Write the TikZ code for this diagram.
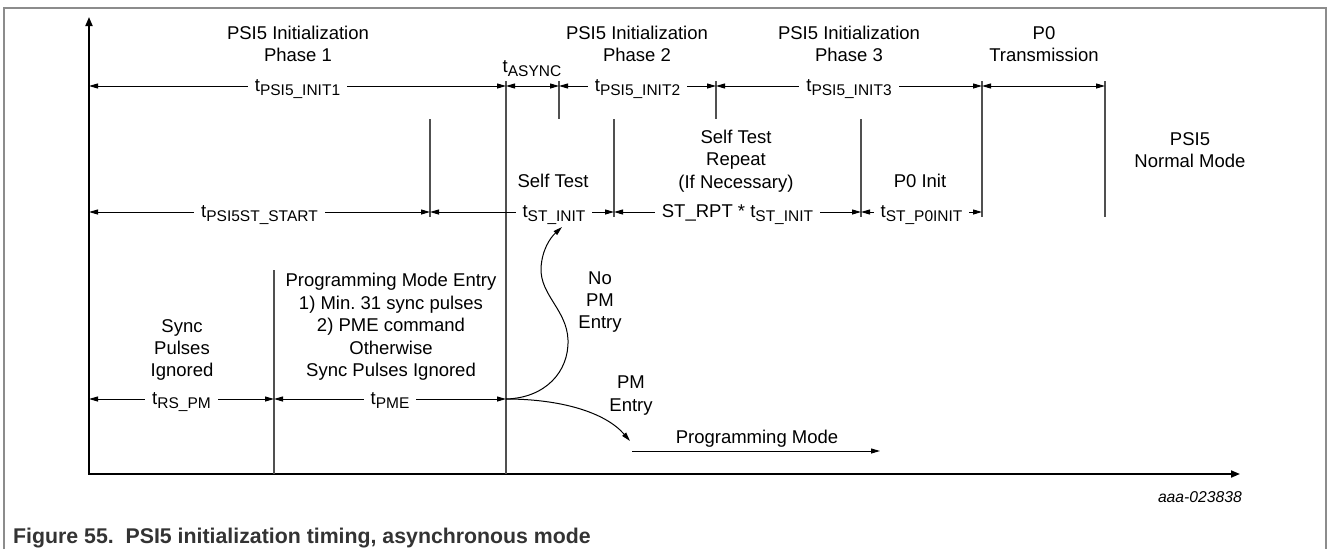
\documentclass[tikz,border=0pt]{standalone}
\usepackage{fontspec}
\setmainfont{Liberation Sans}
\usetikzlibrary{arrows.meta}
\definecolor{framegray}{HTML}{8C8C8C}
\definecolor{linegray}{HTML}{505050}
\definecolor{captiongray}{HTML}{333333}
\newcommand\tsb[1]{t\raisebox{-4.5pt}{\fontsize{15.5}{16}\selectfont #1}}
\begin{document}
\begin{tikzpicture}[x=1pt,y=-1pt,
  every node/.style={font=\fontsize{18.5}{22.4}\selectfont, inner sep=0pt},
  txt/.style={align=center},
  dim/.style={line width=1pt, {Triangle[length=9pt,width=5pt]}-{Triangle[length=9pt,width=5pt]}},
  dimlab/.style={fill=white, inner xsep=7pt, inner ysep=1pt, anchor=base, yshift=-5pt},
  sect/.style={line width=1.2pt, draw=linegray},
  axisline/.style={line width=1.8pt, {Triangle[length=9pt,width=7pt]}-{Triangle[length=9pt,width=7pt]}},
  flow/.style={line width=1pt, -{Triangle[length=9pt,width=5pt]}}
]
\useasboundingbox (0,0) rectangle (1328,549);
% page frame
\draw[framegray, line width=1.2pt] (4,549) -- (4,8) -- (1326,8) -- (1326,549);

% rows and columns
\coordinate (rA) at (0,86);
\coordinate (rB) at (0,212);
\coordinate (rC) at (0,399);
\coordinate (yT) at (0,81);
\coordinate (yM) at (0,119);
\coordinate (yB) at (0,217);
\coordinate (yP) at (0,270);
\coordinate (yX) at (0,474);
\coordinate (x0) at (89,0);
\coordinate (x1) at (274,0);
\coordinate (x2) at (430,0);
\coordinate (x3) at (506,0);
\coordinate (x4) at (559,0);
\coordinate (x5) at (614,0);
\coordinate (x6) at (716,0);
\coordinate (x7) at (861,0);
\coordinate (x8) at (982,0);
\coordinate (x9) at (1105,0);

% axes
\coordinate (origin) at (89,474);
\coordinate (ytip) at (89,17);
\coordinate (xtip) at (1240,474);
\draw[axisline] (ytip) -- (origin) -- (xtip);

% section lines
\draw[sect] (x1 |- yP) -- (x1 |- yX);
\draw[sect] (x2 |- yM) -- (x2 |- yB);
\draw[sect] (x3 |- yT) -- (x3 |- yX);
\draw[sect] (x4 |- yT) -- (x4 |- yM);
\draw[sect] (x5 |- yM) -- (x5 |- yB);
\draw[sect] (x6 |- yT) -- (x6 |- yM);
\draw[sect] (x7 |- yM) -- (x7 |- yB);
\draw[sect] (x8 |- yT) -- (x8 |- yB);
\draw[sect] (x9 |- yT) -- (x9 |- yB);

% row A
\draw[dim] (x0 |- rA) -- node[dimlab] (lInitA) {\tsb{PSI5\_INIT1}} (x3 |- rA);
\draw[dim] (x3 |- rA) -- (x4 |- rA);
\draw[dim] (x4 |- rA) -- node[dimlab] (lInitB) {\tsb{PSI5\_INIT2}} (x6 |- rA);
\draw[dim] (x6 |- rA) -- node[dimlab] (lInitC) {\tsb{PSI5\_INIT3}} (x8 |- rA);
\draw[dim] (x8 |- rA) -- (x9 |- rA);
% row B
\draw[dim] (x0 |- rB) -- node[dimlab] (lStStart) {\tsb{PSI5ST\_START}} (x2 |- rB);
\draw[dim] (x2 |- rB) -- node[dimlab, pos=0.674] (lStInit) {\tsb{ST\_INIT}} (x5 |- rB);
\draw[dim] (x5 |- rB) -- node[dimlab] (lStRpt) {ST\_RPT * \tsb{ST\_INIT}} (x7 |- rB);
\draw[dim] (x7 |- rB) -- node[dimlab] (lStP0) {\tsb{ST\_P0INIT}} (x8 |- rB);
% row C
\draw[dim] (x0 |- rC) -- node[dimlab] (lRsPm) {\tsb{RS\_PM}} (x1 |- rC);
\draw[dim] (x1 |- rC) -- node[dimlab] (lPme) {\tsb{PME}} (x3 |- rC);

% phase titles
\node[txt] (ph1) at (298,44) {PSI5 Initialization\\Phase 1};
\node[txt] (ph2) at (637,44) {PSI5 Initialization\\Phase 2};
\node[txt] (ph3) at (849,44) {PSI5 Initialization\\Phase 3};
\node[txt] (p0t) at (1044,44) {P0\\Transmission};
\node[anchor=base] (async) at (532,72) {\tsb{ASYNC}};

% middle texts
\node[anchor=base] (st) at (553,187) {Self Test};
\node[txt] (str) at (736,161) {Self Test\\Repeat\\(If Necessary)};
\node[anchor=base] (p0i) at (920,187) {P0 Init};
\node[txt] (nm) at (1190,150) {PSI5\\Normal Mode};

% lower texts
\node[txt] (spi) at (182,350) {Sync\\Pulses\\Ignored};
\node[txt] (pme) at (391,327) {Programming Mode Entry\\1) Min.\ 31 sync pulses\\2) PME command\\Otherwise\\Sync Pulses Ignored};
\node[txt] (nopm) at (600,302) {No\\PM\\Entry};
\node[txt] (pmen) at (631,395.5) {PM\\Entry};
\node[anchor=base] (pmode) at (757,443) {Programming Mode};

% branch curves
\coordinate (split) at (x3 |- rC);
\coordinate (noEnd) at (562,227);
\coordinate (pmEnd) at (630,441);
\draw[flow] (split) .. controls (545,398) and (569,372) .. (568,340)
                     .. controls (567,310) and (540,295) .. (541,268)
                     .. controls (542,250) and (550,238) .. (noEnd);
\draw[flow] (split) .. controls (560,399) and (605,412) .. (pmEnd);
\coordinate (pmS) at (632,451);
\coordinate (pmE) at (880,451);
\draw[flow] (pmS) -- (pmE);

% id and caption
\node[anchor=east, font=\fontsize{15.7}{18}\selectfont\itshape] (figid) at (1242,497) {aaa-023838};
\node[anchor=west, text=captiongray, font=\fontsize{21.3}{24}\selectfont\bfseries] (cap) at (13,538) {Figure 55.\ \ PSI5 initialization timing, asynchronous mode};
\end{tikzpicture}
\end{document}
